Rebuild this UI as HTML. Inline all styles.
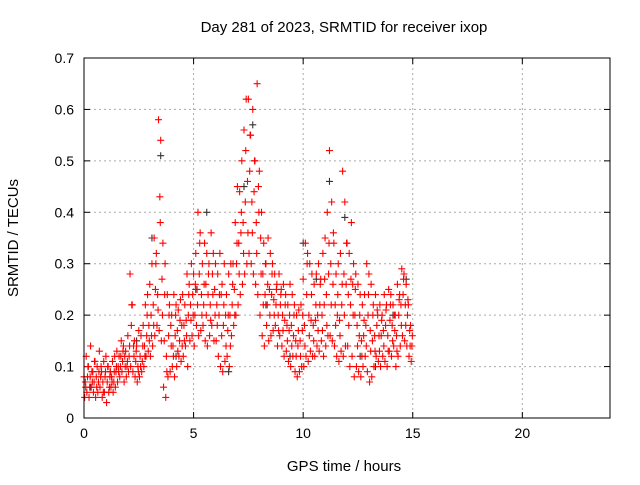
<!DOCTYPE html>
<html><head><meta charset="utf-8"><style>
body{margin:0;background:#fff;}
svg{font-family:"Liberation Sans",sans-serif;}
</style></head><body>
<svg id="chart" width="640" height="480">
<text x="344" y="32" text-anchor="middle" font-size="15">Day 281 of 2023, SRMTID for receiver ixop</text>
<text x="344" y="471" text-anchor="middle" font-size="15">GPS time / hours</text>
<text transform="translate(18,238) rotate(-90)" text-anchor="middle" font-size="15">SRMTID / TECUs</text>
<g id="grid"></g><g id="marks"></g>
<rect x="84" y="58" width="526" height="360" fill="none" stroke="#000" stroke-width="1"/>
</svg>
<script>
const xTicks=[0,5,10,15,20];
const yTicks=[0,0.1,0.2,0.3,0.4,0.5,0.6,0.7];
const seriesA=[.08,.12,.10,.14,.09,.11,.10,.13,.09,.11,.12,.10,.09,.11,.12,
.13,.12,.15,.14,.13,.16,.28,.22,.15,.14,.17,.16,.18,.22,.24,
.26,.30,.35,.32,.58,.54,.34,.30,.24,.22,.20,.24,.22,.21,.23,
.24,.22,.28,.26,.30,.28,.32,.40,.36,.30,.34,.32,.30,.36,.32,
.30,.28,.32,.26,.30,.24,.28,.30,.30,.38,.45,.44,.50,.56,.62,
.62,.55,.60,.50,.65,.48,.40,.34,.30,.35,.32,.30,.28,.26,.28,
.25,.26,.24,.22,.26,.24,.22,.20,.21,.22,.27,.34,.32,.30,.28,
.26,.28,.30,.27,.32,.35,.40,.52,.42,.34,.28,.30,.32,.48,.42,
.34,.32,.38,.30,.28,.26,.24,.22,.24,.30,.28,.26,.22,.24,.20,
.22,.20,.24,.22,.25,.24,.22,.20,.26,.24,.29,.28,.26,.22,.18];
const seriesB=[.04,.05,.04,.06,.05,.04,.05,.06,.04,.05,.03,.05,.06,.05,.06,
.07,.08,.09,.07,.08,.09,.10,.09,.08,.07,.08,.09,.10,.12,.13,
.12,.14,.16,.18,.17,.15,.06,.04,.08,.09,.10,.08,.10,.12,.11,
.12,.14,.10,.15,.16,.14,.18,.16,.17,.18,.15,.14,.16,.18,.15,
.15,.12,.10,.09,.11,.12,.10,.16,.18,.20,.22,.24,.26,.28,.30,
.32,.30,.28,.26,.24,.20,.16,.14,.18,.15,.16,.17,.18,.14,.16,
.14,.12,.13,.11,.10,.12,.09,.08,.09,.10,.10,.12,.11,.13,.12,
.12,.14,.13,.15,.12,.14,.16,.16,.15,.14,.12,.11,.13,.12,.14,
.14,.10,.12,.08,.10,.09,.08,.10,.12,.09,.07,.08,.10,.12,.11,
.10,.12,.11,.10,.13,.12,.14,.10,.12,.14,.16,.15,.14,.12,.11];
const seriesC=[.07,.08,.06,.09,.07,.08,.07,.08,.07,.08,.07,.06,.08,.07,.09,
.10,.10,.11,.12,.10,.12,.18,.14,.11,.10,.12,.11,.14,.16,.18,
.20,.22,.25,.24,.43,.27,.15,.12,.16,.18,.14,.16,.17,.15,.18,
.18,.19,.20,.22,.24,.20,.25,.28,.24,.22,.26,.24,.22,.28,.25,
.22,.20,.24,.18,.20,.17,.20,.22,.25,.30,.34,.36,.38,.42,.46,
.48,.42,.44,.38,.45,.35,.28,.24,.22,.25,.24,.23,.22,.20,.22,
.20,.19,.18,.17,.18,.16,.15,.14,.15,.17,.18,.24,.20,.19,.18,
.19,.20,.22,.20,.22,.24,.28,.30,.26,.22,.20,.19,.22,.28,.26,
.24,.22,.26,.20,.18,.16,.15,.16,.18,.20,.17,.15,.16,.18,.16,
.16,.17,.18,.16,.19,.18,.20,.16,.20,.22,.24,.22,.20,.17,.14];
const seriesD=[.06,.10,.08,.07,.11,.06,.09,.10,.05,.09,.10,.08,.07,.09,.10,
.09,.12,.13,.10,.11,.14,.22,.12,.13,.09,.10,.14,.12,.20,.15,
.16,.18,.30,.21,.38,.20,.24,.09,.20,.14,.12,.20,.13,.19,.14,
.15,.16,.24,.19,.20,.26,.22,.34,.20,.26,.20,.28,.19,.24,.20,
.18,.24,.16,.22,.14,.20,.14,.26,.20,.34,.28,.40,.32,.52,.36,
.55,.36,.50,.32,.40,.28,.22,.30,.26,.20,.28,.20,.25,.17,.24,
.17,.22,.15,.20,.14,.20,.12,.17,.12,.20,.14,.30,.16,.24,.15,
.22,.17,.26,.17,.27,.18,.34,.22,.36,.18,.24,.16,.26,.20,.34,
.18,.27,.20,.25,.14,.20,.12,.19,.14,.24,.13,.20,.13,.21,.13,
.19,.14,.21,.13,.22,.15,.17,.13,.23,.18,.27,.18,.23,.14,.16];
const blackT=[0.3,1.2,2.4,3.1,3.5,4.2,5.1,5.6,6.6,7.3,7.7,8.3,9.4,10.0,10.6,11.2,11.9,12.6,13.3,14.1,14.7];
const blackV=[0.06,0.09,0.15,0.35,0.51,0.12,0.25,0.40,0.09,0.45,0.57,0.22,0.12,0.34,0.27,0.46,0.39,0.12,0.10,0.20,0.27];
const L=84,R=610,T=58,B=418,step=0.1;
const xs=v=>L+v*(R-L)/24, ys=v=>B-v*(B-T)/0.7;
const NS='http://www.w3.org/2000/svg';
const grid=document.getElementById('grid'), marks=document.getElementById('marks');
function mk(tag,attrs,parent){const e=document.createElementNS(NS,tag);for(const k in attrs)e.setAttribute(k,attrs[k]);parent.appendChild(e);return e;}
xTicks.forEach(t=>{const x=xs(t);
 if(t>0){const g=mk('line',{x1:x,x2:x,y1:T,y2:B,stroke:'#aaa','stroke-dasharray':'2,3'},grid);
 
 }
 mk('line',{x1:x,x2:x,y1:B,y2:B-6,stroke:'#000'},grid);mk('line',{x1:x,x2:x,y1:T,y2:T+6,stroke:'#000'},grid);
 const lb=mk('text',{x:x,y:B+20,'text-anchor':'middle','font-size':14},grid);lb.textContent=t;
 
 });
yTicks.forEach(t=>{const y=ys(t);
 if(t>0&&t<0.7){const g=mk('line',{x1:L,x2:R,y1:y,y2:y,stroke:'#aaa','stroke-dasharray':'2,3'},grid);
 
 }
 mk('line',{x1:L,x2:L+6,y1:y,y2:y,stroke:'#000'},grid);mk('line',{x1:R,x2:R-6,y1:y,y2:y,stroke:'#000'},grid);
 const lb=mk('text',{x:L-10,y:y+5,'text-anchor':'end','font-size':14},grid);lb.textContent=+t.toFixed(1);
 
 });
function plus(t,v,col){const x=xs(t),y=ys(v);
 const p=mk('path',{d:`M${x-3.5},${y}h7M${x},${y-3.5}v7`,stroke:col,'stroke-width':1.1,fill:'none'},marks);
 
 }
blackT.forEach((t,i)=>plus(t,blackV[i],'#333'));
seriesA.forEach((v,i)=>plus(i*step,v,'#f00'));
seriesB.forEach((v,i)=>plus(i*step+0.03,v,'#f00'));
seriesC.forEach((v,i)=>plus(i*step+0.06,v,'#f00'));
seriesD.forEach((v,i)=>plus(i*step+0.08,v,'#f00'));
</script>
</body></html>
